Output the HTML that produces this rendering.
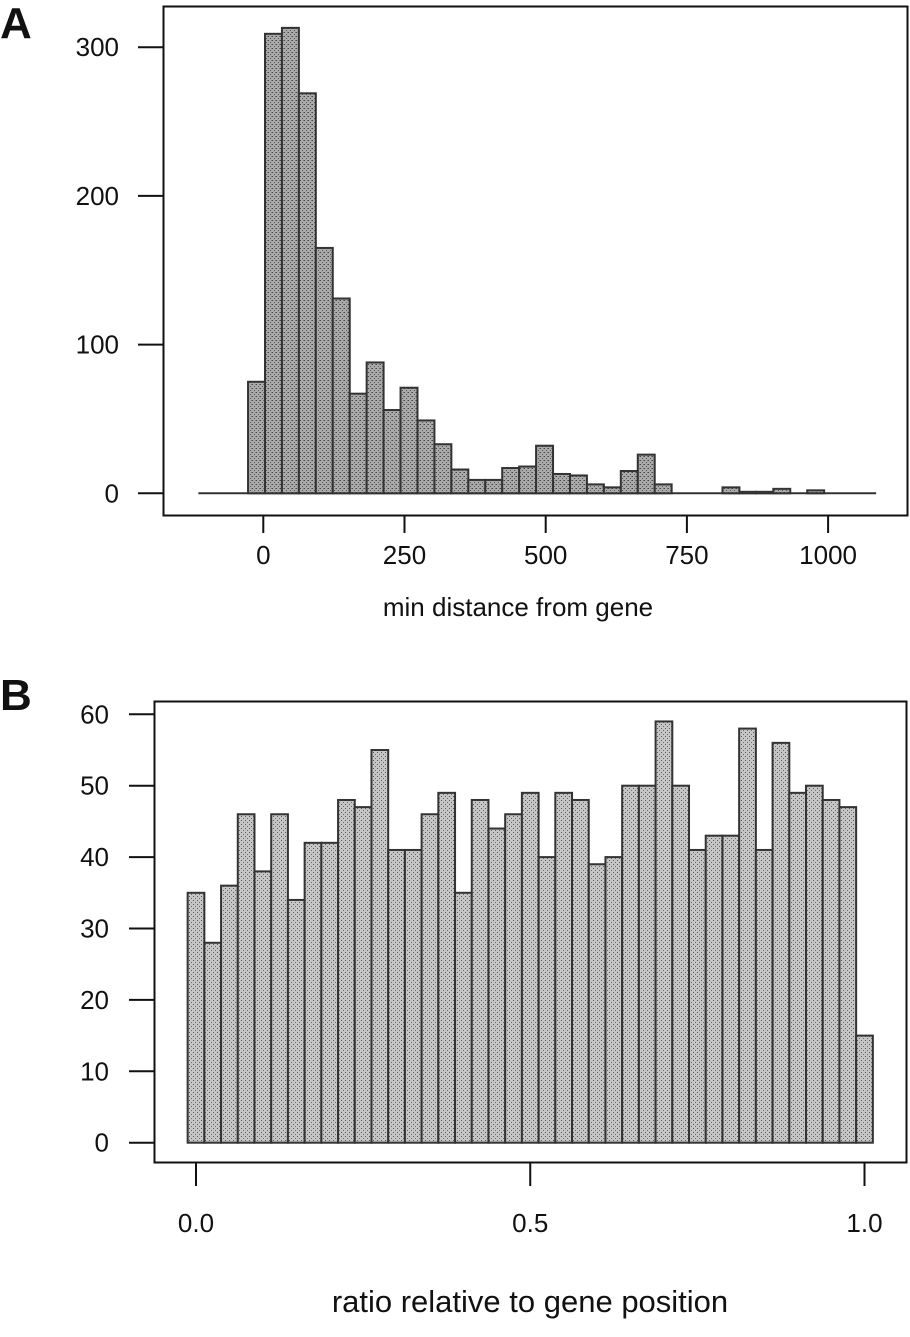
<!DOCTYPE html>
<html><head><meta charset="utf-8"><style>
html,body{margin:0;padding:0;background:#fff;}
svg text{font-family:"Liberation Sans",Arial,sans-serif;fill:#111;}
</style></head><body>
<svg id="fig" width="910" height="1332" viewBox="0 0 910 1332" xmlns="http://www.w3.org/2000/svg">
<defs>
<pattern id="stipA" width="4" height="4" patternUnits="userSpaceOnUse"><rect width="4" height="4" fill="#aaaaaa"/><rect x="0" y="0" width="1" height="1" fill="#444"/><rect x="2" y="2" width="1" height="1" fill="#555"/><rect x="3" y="0" width="1" height="1" fill="#777"/></pattern>
<pattern id="stipB" width="4" height="4" patternUnits="userSpaceOnUse"><rect width="4" height="4" fill="#c6c6c6"/><rect x="1" y="0" width="1" height="1" fill="#555"/><rect x="3" y="2" width="1" height="1" fill="#666"/></pattern>
</defs>
<g id="panelA"></g>
<g id="panelB"></g>
</svg>
<script>
// Panel A data
const aValues = [75,309,313,269,165,131,67,88,56,71,49,33,16,9,9,17,18,32,13,12,6,4,15,26,6,0,0,0,4,1,1,3,0,2];
const aBinStart = -27;
const aBinWidth = 30;
const aYTicks = [0,100,200,300];
const aXTicks = [0,250,500,750,1000];
// Panel B data
const bValues = [35,28,36,46,38,46,34,42,42,48,47,55,41,41,46,49,35,48,44,46,49,40,49,48,39,40,50,50,59,50,41,43,43,58,41,56,49,50,48,47,15];
const bBinStart = -0.0125;
const bBinWidth = 0.025;
const bYTicks = [0,10,20,30,40,50,60];
const bXTicks = ["0.0","0.5","1.0"];

const NS="http://www.w3.org/2000/svg";
function mk(parent,tag,attrs,text){const e=document.createElementNS(NS,tag);for(const k in attrs)e.setAttribute(k,attrs[k]);if(text!==undefined)e.textContent=text;parent.appendChild(e);return e;}

// ---- Panel A ----
(function(){
const g=document.getElementById('panelA');
const xA=v=>263.3+(v)*(141.2/250);
const yA=v=>493.3-v*1.487;
const lbl=mk(g,'text',{x:0,y:38,'font-size':44,'font-weight':'bold'},'A');


const box=mk(g,'rect',{x:163.5,y:6.5,width:744,height:509,fill:'none',stroke:'#111','stroke-width':2});


const base=mk(g,'line',{x1:xA(-115),x2:xA(1085),y1:yA(0),y2:yA(0),stroke:'#333','stroke-width':2});


aValues.forEach((v,i)=>{
  const x0=xA(aBinStart+i*aBinWidth),x1=xA(aBinStart+(i+1)*aBinWidth);
  if(v<=0)return;
  const r=mk(g,'rect',{x:x0,y:yA(v),width:x1-x0,height:yA(0)-yA(v),fill:'url(#stipA)',stroke:'#333','stroke-width':2});
  
  
});
aYTicks.forEach(t=>{
  const tk=mk(g,'line',{x1:138,x2:163,y1:yA(t),y2:yA(t),stroke:'#111','stroke-width':2});
  
  
  const tx=mk(g,'text',{x:119,y:yA(t)+9,'font-size':26,'text-anchor':'end'},String(t));
  
  
});
aXTicks.forEach(t=>{
  const tk=mk(g,'line',{x1:xA(t),x2:xA(t),y1:516,y2:533,stroke:'#111','stroke-width':2});
  
  
  const tx=mk(g,'text',{x:xA(t),y:564,'font-size':26,'text-anchor':'middle'},String(t));
  
  
});
const tt=mk(g,'text',{x:518,y:616,'font-size':26,'text-anchor':'middle'},'min distance from gene');


})();

// ---- Panel B ----
(function(){
const g=document.getElementById('panelB');
const xB=v=>196+v*668.5;
const yB=v=>1142.7-v*7.14;
const lbl=mk(g,'text',{x:0,y:710,'font-size':44,'font-weight':'bold'},'B');


const box=mk(g,'rect',{x:154.5,y:701.5,width:752,height:461,fill:'none',stroke:'#111','stroke-width':2});


bValues.forEach((v,i)=>{
  const x0=xB(bBinStart+i*bBinWidth),x1=xB(bBinStart+(i+1)*bBinWidth);
  const r=mk(g,'rect',{x:x0,y:yB(v),width:x1-x0,height:yB(0)-yB(v),fill:'url(#stipB)',stroke:'#333','stroke-width':2});
  
  
});
bYTicks.forEach(t=>{
  const tk=mk(g,'line',{x1:129,x2:154,y1:yB(t),y2:yB(t),stroke:'#111','stroke-width':2});
  
  
  const tx=mk(g,'text',{x:109,y:yB(t)+9,'font-size':26,'text-anchor':'end'},String(t));
  
  
});
bXTicks.forEach(t=>{
  const v=parseFloat(t);
  const tk=mk(g,'line',{x1:xB(v),x2:xB(v),y1:1163,y2:1186,stroke:'#111','stroke-width':2});
  
  
  const tx=mk(g,'text',{x:xB(v),y:1232,'font-size':26,'text-anchor':'middle'},t);
  
  
});
const tt=mk(g,'text',{x:530,y:1312,'font-size':31,'text-anchor':'middle'},'ratio relative to gene position');


})();
</script>
</body></html>
